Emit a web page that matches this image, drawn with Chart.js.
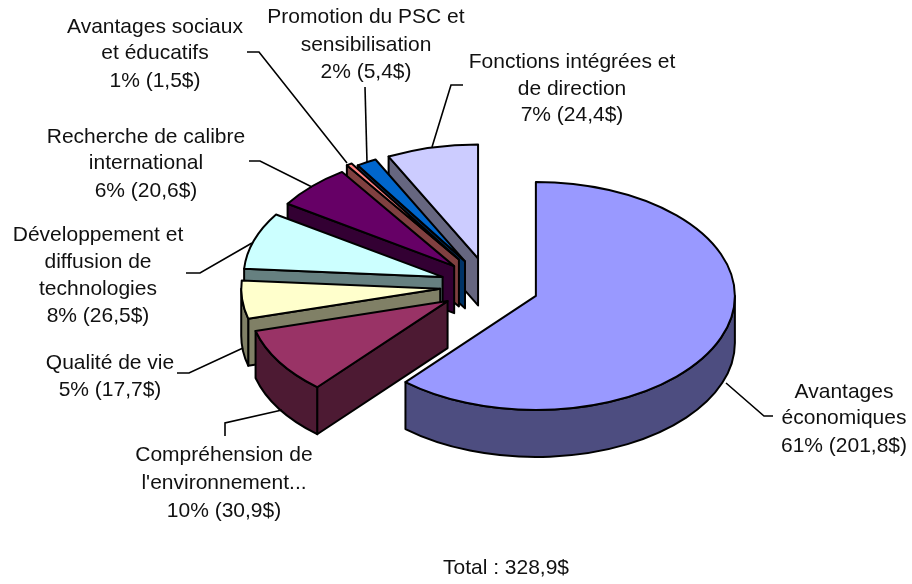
<!DOCTYPE html>
<html lang="fr">
<head>
<meta charset="utf-8">
<title>Total : 328,9$</title>
<script src="https://cdn.jsdelivr.net/npm/chart.js@4"></script>
<style>
    html, body { margin: 0; padding: 0; background: #fff; }
    canvas { display: block; }
</style>
</head>
<body>
<canvas id="pie3d" width="912" height="584"></canvas>
<script>
// Chart data, clockwise from 12 o'clock
const categories = [
    ['Avantages', 'économiques', '61% (201,8$)'],
    ['Compréhension de', "l'environnement...", '10% (30,9$)'],
    ['Qualité de vie', '5% (17,7$)'],
    ['Développement et', 'diffusion de', 'technologies', '8% (26,5$)'],
    ['Recherche de calibre', 'international', '6% (20,6$)'],
    ['Avantages sociaux', 'et éducatifs', '1% (1,5$)'],
    ['Promotion du PSC et', 'sensibilisation', '2% (5,4$)'],
    ['Fonctions intégrées et', 'de direction', '7% (24,4$)']
];
const values = [201.8, 30.9, 17.7, 26.5, 20.6, 1.5, 5.4, 24.4];
const topColors = ['#9999FF', '#993366', '#FFFFCC', '#CCFFFF', '#660066', '#FF8080', '#0066CC', '#CCCCFF'];
const sideColors = ['#4D4D80', '#4D1A33', '#808066', '#668080', '#330033', '#804040', '#003366', '#666680'];
const totalLabel = 'Total : 328,9$';

// Layout of the labels: centre x and the y of each line
const labelPos = [
    { x: 844, y: [392, 418, 446] },
    { x: 224, y: [455, 483, 511] },
    { x: 110, y: [363, 390] },
    { x: 98, y: [235, 262, 289, 316] },
    { x: 146, y: [137, 163, 191] },
    { x: 155, y: [27, 53, 81] },
    { x: 366, y: [17, 45, 72] },
    { x: 572, y: [62, 89, 115] }
];
// Leader lines from the labels to the slices
const leaders = [
    [[773, 416], [764, 416], [726, 383]],
    [[225, 436], [225, 423], [282, 410]],
    [[177, 373], [189, 373], [243, 348]],
    [[186, 273], [200, 273], [252, 243]],
    [[249, 161], [260, 161], [312, 187]],
    [[247, 52], [259, 52], [347, 163]],
    [[365, 87], [367, 162]],
    [[463, 85], [451, 85], [432, 147]]
];
// Explosion of each slice (Chart.js moves an arc by a quarter of its offset)
const explode = [198, 198, 198, 198, 198, 222, 198, 198];

const squash = 0.573;   // ellipse height / width
const depth = 47;       // height of the extruded side

// Draws the arcs tilted and extruded, using the geometry the pie controller computed
const pie3dPlugin = {
    id: 'pie3d',
    beforeDatasetDraw(chart, args) {
        const ctx = chart.ctx;
        const arcs = args.meta.data;
        ctx.save();
        ctx.lineWidth = 2;
        ctx.strokeStyle = '#000';
        ctx.lineJoin = 'round';

        // back to front, the big slice does not overlap anything
        for (let i = arcs.length - 1; i >= 0; i--) {
            const arc = arcs[i];
            const a = arc.startAngle;
            const b = arc.endAngle;
            const mid = (a + b) / 2;
            const push = arc.options.offset / 4;
            const cx = arc.x + Math.cos(mid) * push;
            const cy = arc.y + Math.sin(mid) * push * squash;
            const rx = arc.outerRadius;
            const ry = rx * squash;

            // radial wall on the start edge
            if (Math.cos(a) < -1e-6) {
                const px = cx + Math.cos(a) * rx;
                const py = cy + Math.sin(a) * ry;
                ctx.beginPath();
                ctx.moveTo(cx, cy);
                ctx.lineTo(px, py);
                ctx.lineTo(px, py + depth);
                ctx.lineTo(cx, cy + depth);
                ctx.closePath();
                ctx.fillStyle = sideColors[i];
                ctx.fill();
                ctx.stroke();
            }

            // outer rim, only the front half of the ellipse shows
            const rimStart = Math.max(a, 0);
            const rimEnd = Math.min(b, Math.PI);
            if (rimEnd > rimStart) {
                ctx.beginPath();
                ctx.ellipse(cx, cy, rx, ry, 0, rimStart, rimEnd);
                ctx.ellipse(cx, cy + depth, rx, ry, 0, rimEnd, rimStart, true);
                ctx.closePath();
                ctx.fillStyle = sideColors[i];
                ctx.fill();
                ctx.stroke();
            }

            // top face
            ctx.beginPath();
            ctx.moveTo(cx, cy);
            ctx.ellipse(cx, cy, rx, ry, 0, a, b);
            ctx.closePath();
            ctx.fillStyle = arc.options.backgroundColor;
            ctx.fill();
            ctx.stroke();
        }
        ctx.restore();
        return false;  // skip the flat drawing
    },
    afterDraw(chart) {
        const ctx = chart.ctx;
        ctx.save();
        ctx.strokeStyle = '#000';
        ctx.lineWidth = 1.6;
        leaders.forEach(line => {
            ctx.beginPath();
            line.forEach((p, i) => i ? ctx.lineTo(p[0], p[1]) : ctx.moveTo(p[0], p[1]));
            ctx.stroke();
        });

        ctx.fillStyle = '#111';
        ctx.font = '21px "Liberation Sans", Arial, sans-serif';
        ctx.textAlign = 'center';
        ctx.textBaseline = 'middle';
        categories.forEach((lines, i) => {
            lines.forEach((text, j) => ctx.fillText(text, labelPos[i].x, labelPos[i].y[j]));
        });
        ctx.fillText(totalLabel, 506, 568);
        ctx.restore();
    }
};

new Chart(document.getElementById('pie3d').getContext('2d'), {
    type: 'pie',
    data: {
        labels: categories.map(lines => lines[0]),
        datasets: [{
            data: values,
            backgroundColor: topColors,
            offset: explode,
            radius: 199
        }]
    },
    options: {
        responsive: false,
        animation: false,
        layout: { padding: { left: 67, bottom: 12 } },
        plugins: { legend: { display: false }, tooltip: { enabled: false } }
    },
    plugins: [pie3dPlugin]
});
</script>
</body>
</html>
